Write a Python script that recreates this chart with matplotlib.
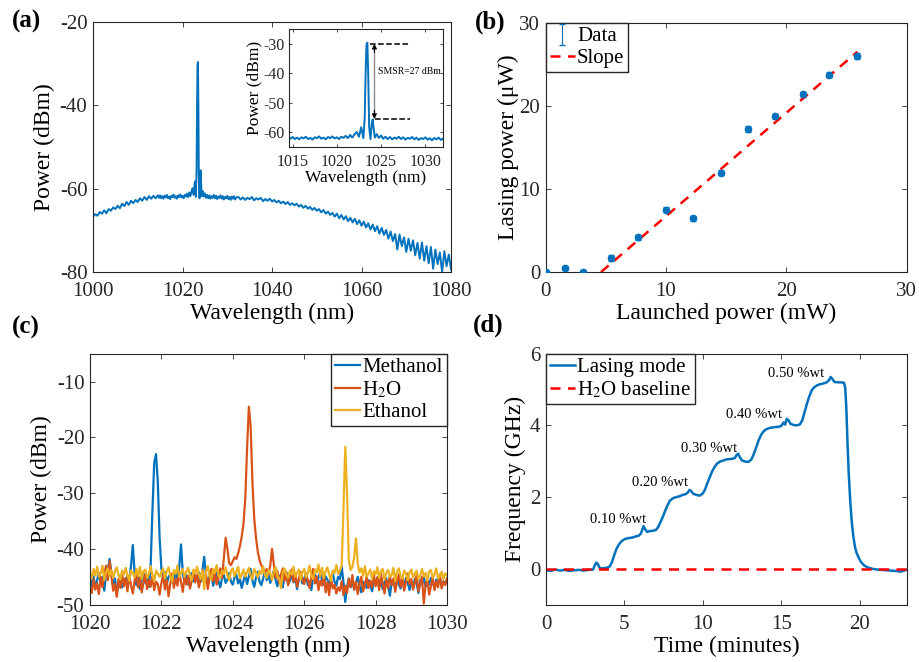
import numpy as np
import matplotlib
matplotlib.use("Agg")
import matplotlib.pyplot as plt

# ---------------- data ----------------
# (a) broadband spectrum, segments (start, step) + hand-read values
seg1_pw = [-66.8, -66.1, -66.5, -65.6, -66.0, -65.2, -65.9, -64.9, -65.3, -64.5,
           -64.9, -64.1, -64.7, -63.6, -64.2, -63.2, -63.9, -62.9, -63.5, -62.7,
           -63.2, -62.3, -62.9, -62.0, -62.7, -61.8, -62.4, -61.7, -62.3, -61.6]   # 1000 -> 1014.5
seg2_pw = [-62.2, -61.6, -62.3, -61.8, -62.4, -61.7, -62.1, -61.5, -62.3, -61.9,
           -62.5, -61.7, -62.0, -61.4, -62.2, -61.8, -62.4, -61.6, -62.0, -61.4,
           -62.1, -61.7, -62.3, -61.5, -61.9, -61.2, -62.0, -60.9, -61.8, -60.7,
           -59.9, -61.5, -58.3]                                                   # 1014.75 -> 1022.75
peak_wl = [1023.0, 1023.15, 1023.25, 1023.35, 1023.45, 1023.55, 1023.65, 1023.8,
           1023.95, 1024.05, 1024.15, 1024.3]
peak_pw = [-62.0, -55.0, -40.0, -30.5, -29.6, -41.0, -58.0, -62.3, -57.0, -55.6, -58.5, -61.8]
seg3_pw = [-60.6, -61.9, -61.1, -62.2, -61.5, -62.3, -61.6, -62.4, -61.8, -62.2,
           -61.5, -62.3, -61.7, -62.5, -61.9, -62.2, -61.6, -62.4, -61.8, -62.6,
           -62.0, -62.3, -61.7, -62.5, -62.0, -62.7, -61.9, -62.4, -61.8, -62.6,
           -62.1]                                                                 # 1024.5 -> 1032
seg4_pw = [-62.0, -62.6, -62.1, -62.7, -62.2, -62.5, -62.0, -62.8, -62.3, -62.6,
           -62.2, -63.0, -62.5, -62.9, -62.4, -63.1, -62.7, -63.3, -62.9, -63.5,
           -63.1, -63.7, -63.2, -63.9, -63.5, -64.0, -63.6, -64.3, -63.9, -64.6,
           -64.1, -64.8, -64.4, -65.1, -64.6, -65.3, -64.9, -65.7, -65.1, -66.0,
           -65.5, -66.3, -65.8, -66.7, -66.0, -67.1, -66.3, -67.4, -66.6, -67.8,
           -67.0, -68.1, -67.2, -68.5, -67.6, -68.9, -67.9, -69.3, -68.3, -69.8,
           -68.6, -70.2, -69.0, -70.8, -69.4, -71.1, -69.9, -72.0, -70.3, -72.6,
           -70.9, -74.6, -71.0, -73.8, -71.7, -75.2, -72.0, -74.9, -72.4, -76.0,
           -73.0, -76.8, -72.9, -77.3, -73.8, -77.9, -74.0, -79.2, -74.6, -78.1,
           -75.3, -80.0, -75.0, -78.6, -75.8, -79.4]                             # 1032.5 -> 1080

smsr_top = -30.0
smsr_bottom = -55.5

# (b) lasing power vs launched power
launched = [0, 1.57, 3.14, 5.45, 7.71, 10.0, 12.26, 14.55, 16.83, 19.09, 21.35, 23.58, 25.84]
lasing = [0, 0.44, 0.04, 1.64, 4.16, 7.52, 6.44, 11.96, 17.2, 18.72, 21.4, 23.76, 26.0]
lasing_err = [0.1, 0.25, 0.2, 0.35, 0.3, 0.35, 0.35, 0.3, 0.35, 0.3, 0.3, 0.3, 0.4]
slope_x = [4.6, 25.9]
slope_y = [0, 26.5]

# (c) spectra in different liquids, 0.05 nm grid from 1020 nm (one row = 1 nm)
methanol = [
    -45.2, -46.8, -44.9, -47.1, -45.6, -44.3, -46.2, -45.0, -47.5, -44.6, -43.8, -41.8, -44.5, -46.7, -45.3, -48.3, -45.8, -44.7, -46.9, -45.4,
    -46.3, -44.8, -45.9, -43.0, -39.3, -44.2, -46.5, -45.1, -47.2, -45.6, -44.4, -46.1, -45.0, -46.8, -43.0, -33.0, -24.5, -23.0, -28.0, -38.0,
    -43.5, -45.2, -44.1, -46.3, -45.0, -44.6, -46.0, -45.3, -44.0, -45.7, -43.2, -39.2, -44.4, -45.9, -44.7, -46.4, -45.1, -44.3, -45.8, -44.9,
    -45.6, -44.2, -45.9, -43.8, -41.4, -44.9, -46.2, -45.0, -44.5, -46.6, -45.4, -44.1, -45.8, -46.9, -45.2, -44.7, -46.1, -45.5, -44.3, -45.9,
    -46.4, -45.1, -44.6, -46.2, -45.3, -47.0, -45.8, -44.4, -46.3, -45.0, -43.6, -45.7, -46.8, -45.2, -44.1, -45.9, -46.5, -45.3, -44.0, -45.6,
    -44.5, -46.1, -45.2, -43.9, -45.6, -46.7, -44.8, -45.4, -46.9, -45.0, -44.2, -46.3, -45.7, -44.6, -46.0, -45.1, -47.2, -45.5, -44.7, -46.2,
    -45.3, -44.4, -46.5, -45.8, -47.4, -45.0, -44.6, -46.1, -45.2, -44.0, -45.7, -46.4, -44.9, -45.5, -46.8, -45.1, -44.3, -45.9, -46.6, -45.0,
    -45.4, -43.2, -46.0, -49.5, -46.8, -45.3, -46.9, -45.5, -47.3, -46.1, -45.0, -46.6, -47.8, -45.9, -46.3, -47.0, -45.6, -46.4, -47.6, -45.8,
    -46.2, -45.1, -46.8, -45.7, -47.2, -46.0, -45.3, -46.5, -48.4, -46.1, -45.6, -46.9, -45.4, -46.3, -47.1, -45.8, -46.6, -45.2, -46.0, -47.4,
    -45.9, -46.7, -45.4, -46.2, -47.9, -45.6, -46.3, -45.0, -46.8, -45.7, -46.4, -45.2, -46.0, -47.0, -45.5, -46.1, -45.3, -46.6, -45.8, -46.2,
    -45.6]
water = [
    -46.8, -47.9, -45.5, -47.3, -46.2, -48.1, -45.0, -46.9, -44.7, -43.0, -45.6, -42.2, -44.9, -47.5, -46.3, -48.6, -45.4, -47.0, -44.6, -46.7,
    -45.2, -47.6, -44.8, -46.5, -48.0, -45.7, -44.3, -46.9, -45.1, -47.8, -46.0, -44.6, -47.2, -45.5, -46.8, -44.9, -47.4, -45.9, -46.3, -48.2,
    -46.1, -44.7, -47.3, -45.6, -48.5, -46.2, -44.4, -47.0, -45.3, -46.6, -44.2, -45.9, -47.7, -45.0, -46.4, -44.8, -47.1, -45.7, -43.9, -46.0,
    -44.6, -46.9, -45.3, -43.8, -46.1, -44.5, -47.2, -45.0, -43.6, -45.8, -44.3, -46.4, -44.9, -43.5, -45.2, -41.5, -38.0, -40.0, -42.6, -42.9,
    -42.2, -41.5, -41.8, -40.8, -39.5, -37.8, -35.5, -31.0, -22.0, -14.5, -18.0, -28.0, -34.5, -38.0, -40.5, -42.0, -43.0, -43.5, -44.2, -43.6,
    -44.5, -43.0, -40.0, -42.8, -45.2, -44.0, -46.1, -44.6, -43.5, -45.7, -44.2, -46.5, -45.0, -43.7, -45.9, -44.4, -46.8, -45.3, -44.1, -45.6,
    -46.3, -44.8, -45.5, -47.0, -45.1, -43.6, -46.2, -44.9, -47.4, -45.7, -46.6, -44.3, -47.8, -46.0, -48.3, -45.2, -47.1, -46.4, -48.0, -46.9,
    -47.5, -45.8, -48.3, -46.6, -47.9, -45.4, -46.8, -44.7, -47.3, -45.9, -48.1, -46.2, -45.0, -47.6, -46.4, -44.9, -47.0, -45.7, -46.9, -44.6,
    -46.7, -45.1, -47.4, -44.5, -46.2, -48.0, -45.6, -47.0, -44.8, -46.5, -45.3, -47.7, -45.9, -44.6, -46.8, -45.2, -47.5, -46.0, -44.4, -46.3,
    -45.4, -47.3, -46.0, -44.7, -47.6, -46.2, -45.0, -49.8, -46.4, -45.5, -48.2, -46.7, -45.1, -47.4, -45.8, -46.9, -44.6, -47.1, -45.9, -46.5,
    -45.3]
ethanol = [
    -44.1, -45.3, -43.6, -44.8, -43.2, -45.0, -44.4, -43.0, -45.6, -44.2, -43.5, -44.9, -43.8, -45.2, -44.0, -43.3, -44.7, -45.5, -43.9, -44.6,
    -43.4, -44.8, -45.7, -43.9, -44.3, -45.1, -43.6, -44.9, -43.2, -45.4, -44.0, -43.7, -45.2, -44.5, -43.1, -44.7, -45.8, -43.9, -44.4, -45.0,
    -44.2, -43.5, -45.3, -44.0, -43.3, -44.8, -45.9, -43.8, -44.5, -43.0, -45.1, -44.3, -43.6, -45.0, -44.1, -43.4, -44.9, -45.6, -43.7, -44.4,
    -43.2, -44.6, -45.4, -43.8, -47.2, -44.0, -43.1, -44.9, -45.5, -43.6, -44.3, -42.9, -44.8, -45.2, -43.9, -44.5, -43.3, -44.7, -45.6, -44.0,
    -43.5, -44.9, -44.1, -43.2, -45.3, -44.6, -43.7, -45.0, -44.2, -43.4, -44.8, -45.4, -43.6, -44.3, -45.1, -43.9, -44.5, -43.1, -44.7, -45.2,
    -43.8, -44.4, -45.6, -44.0, -43.3, -44.9, -45.3, -47.0, -44.1, -43.5, -44.7, -45.2, -43.9, -44.6, -43.2, -45.0, -44.3, -43.7, -45.5, -44.2,
    -43.6, -45.1, -44.4, -43.0, -44.8, -45.4, -43.7, -44.2, -42.8, -44.9, -43.4, -45.2, -44.0, -43.3, -44.6, -45.7, -43.9, -44.3, -42.9, -44.5,
    -43.9, -43.0, -33.0, -21.7, -30.0, -42.0, -43.8, -43.2, -41.5, -38.1, -42.6, -44.2, -43.5, -44.8, -43.1, -45.0, -44.4, -43.7, -45.3, -44.0,
    -44.6, -43.3, -45.2, -44.0, -43.6, -45.5, -44.3, -43.8, -45.0, -44.7, -43.4, -45.8, -44.1, -43.5, -44.9, -45.3, -43.9, -44.4, -45.6, -44.2,
    -43.7, -45.1, -44.5, -43.9, -45.4, -44.8, -43.6, -45.0, -44.3, -45.7, -44.0, -43.8, -45.2, -44.6, -43.5, -45.3, -44.9, -44.1, -45.5, -44.4,
    -44.8]

# (d) frequency shift vs time
time_min = [0, 0.3, 0.6, 0.9, 1.2, 1.5, 1.8, 2.1, 2.4, 2.7, 3.0, 3.1, 3.2, 3.3, 3.4, 3.5, 3.7, 3.9,
            4.05, 4.2, 4.35, 4.5, 4.65, 4.8, 4.95, 5.1, 5.3, 5.5, 5.7, 5.9, 6.05, 6.15, 6.22, 6.3,
            6.45, 6.6, 6.8, 7.0, 7.15, 7.3, 7.45, 7.6, 7.75, 7.9, 8.1, 8.3, 8.5, 8.7, 8.9, 9.05,
            9.15, 9.25, 9.4, 9.6, 9.8, 10.0, 10.15, 10.3, 10.45, 10.6, 10.75, 10.9, 11.1, 11.3,
            11.5, 11.7, 11.9, 12.05, 12.15, 12.25, 12.35, 12.5, 12.7, 12.9, 13.1, 13.25, 13.4,
            13.55, 13.7, 13.85, 14.0, 14.2, 14.4, 14.6, 14.8, 15.0, 15.15, 15.25, 15.35, 15.45,
            15.6, 15.8, 16.0, 16.2, 16.35, 16.5, 16.65, 16.8, 16.95, 17.1, 17.3, 17.5, 17.7, 17.9,
            18.05, 18.15, 18.25, 18.4, 18.6, 18.8, 19.0, 19.08, 19.15, 19.22, 19.3, 19.4, 19.5,
            19.6, 19.7, 19.8, 19.95, 20.1, 20.3, 20.5, 20.8, 21.1, 21.4, 21.7, 22.0, 22.3, 22.6,
            22.9, 23.0]
freq_ghz = [-0.04, -0.06, -0.02, -0.05, -0.03, -0.06, -0.04, -0.03, -0.05, -0.03, -0.02, 0.08,
            0.17, 0.14, 0.04, 0.01, 0.02, 0.03, 0.06, 0.18, 0.38, 0.56, 0.68, 0.76, 0.81, 0.84,
            0.86, 0.87, 0.90, 0.92, 0.98, 1.10, 1.19, 1.12, 1.03, 1.05, 1.06, 1.08, 1.16, 1.30,
            1.45, 1.62, 1.77, 1.90, 1.97, 2.00, 2.02, 2.06, 2.08, 2.13, 2.20, 2.17, 2.09, 2.06,
            2.04, 2.10, 2.22, 2.40, 2.56, 2.72, 2.84, 2.93, 2.99, 3.02, 3.05, 3.06, 3.07, 3.09,
            3.17, 3.21, 3.12, 3.02, 2.99, 2.98, 3.05, 3.20, 3.38, 3.57, 3.72, 3.82, 3.88, 3.92,
            3.94, 3.95, 3.96, 3.98, 4.08, 4.02, 4.18, 4.15, 4.04, 4.01, 4.00, 4.03, 4.15, 4.38,
            4.62, 4.82, 4.98, 5.06, 5.12, 5.15, 5.17, 5.20, 5.26, 5.35, 5.30, 5.21, 5.20, 5.20,
            5.19, 5.05, 4.50, 3.60, 2.70, 1.90, 1.30, 0.90, 0.62, 0.45, 0.30, 0.18, 0.09, 0.04,
            0.00, -0.02, -0.03, -0.04, -0.05, -0.06, -0.08, -0.04, -0.03]
baseline_t = [0, 23]
baseline_f = [0, 0]
conc_labels = ["0.10 %wt", "0.20 %wt", "0.30 %wt", "0.40 %wt", "0.50 %wt"]
conc_t = [4.62, 7.28, 10.37, 13.29, 15.97]
conc_f = [1.38, 2.40, 3.36, 4.30, 5.45]

# ---------------- style ----------------
plt.rcParams['font.family'] = ['Liberation Serif', 'DejaVu Serif']
plt.rcParams['mathtext.fontset'] = 'stix'
plt.rcParams['axes.unicode_minus'] = False
plt.rcParams['axes.linewidth'] = 0.8
plt.rcParams['axes.edgecolor'] = '#262626'
plt.rcParams['xtick.color'] = '#262626'
plt.rcParams['ytick.color'] = '#262626'
plt.rcParams['xtick.direction'] = 'in'
plt.rcParams['ytick.direction'] = 'in'
plt.rcParams['xtick.top'] = True
plt.rcParams['ytick.right'] = True
plt.rcParams['xtick.major.size'] = 3.5
plt.rcParams['ytick.major.size'] = 3.5
plt.rcParams['xtick.major.width'] = 0.6
plt.rcParams['ytick.major.width'] = 0.6
plt.rcParams['xtick.major.pad'] = 7.5
plt.rcParams['ytick.major.pad'] = 4
plt.rcParams['legend.fancybox'] = False
plt.rcParams['legend.edgecolor'] = '#262626'
plt.rcParams['legend.framealpha'] = 1

BLUE = '#0072BD'
ORANGE = '#D95319'
YELLOW = '#EDB120'
TICK_FS = 15
LABEL_FS = 17
LEG = dict(fontsize=15, borderaxespad=0, handlelength=1.2, handletextpad=0.1,
           borderpad=0.2, labelspacing=0.1)

wl_a = np.concatenate([1000 + 0.5 * np.arange(len(seg1_pw)),
                       1014.75 + 0.25 * np.arange(len(seg2_pw)),
                       peak_wl,
                       1024.5 + 0.25 * np.arange(len(seg3_pw)),
                       1032.5 + 0.5 * np.arange(len(seg4_pw))])
pw_a = np.concatenate([seg1_pw, seg2_pw, peak_pw, seg3_pw, seg4_pw])
wl_c = 1020 + 0.05 * np.arange(len(methanol))

fig = plt.figure(figsize=(9.19, 6.62), dpi=100)

# (a)
ax_a = fig.add_axes([0.1012, 0.5891, 0.3896, 0.3777])
ax_a.plot(wl_a, pw_a, color=BLUE, lw=1.4)
ax_a.set_xlim(1000, 1080)
ax_a.set_ylim(-80, -20)
ax_a.set_xticks([1000, 1020, 1040, 1060, 1080])
ax_a.set_yticks([-80, -60, -40, -20])
ax_a.tick_params(labelsize=TICK_FS)
ax_a.set_xlabel('Wavelength (nm)', fontsize=LABEL_FS, labelpad=1)
ax_a.set_ylabel('Power (dBm)', fontsize=LABEL_FS, labelpad=3)

# inset
ax_in = fig.add_axes([0.3145, 0.7779, 0.1676, 0.1782])
ax_in.plot(wl_a, pw_a, color=BLUE, lw=1.4)
ax_in.set_xlim(1014.6, 1032)
ax_in.set_ylim(-65, -25)
ax_in.set_xticks([1015, 1020, 1025, 1030])
ax_in.set_yticks([-60, -50, -40, -30])
ax_in.tick_params(labelsize=11.5, length=2.5)
ax_in.tick_params(axis='x', pad=5)
ax_in.tick_params(axis='y', pad=3)
ax_in.set_xlabel('Wavelength (nm)', fontsize=12.5, labelpad=0)
ax_in.set_ylabel('Power (dBm)', fontsize=12.5, labelpad=1)
ax_in.plot([1023.8, 1028.3], [smsr_top, smsr_top], 'k--', lw=1.1)
ax_in.plot([1024.3, 1028.3], [smsr_bottom, smsr_bottom], 'k--', lw=1.1)
ax_in.plot([1024.25, 1024.25], [smsr_top - 1, smsr_bottom + 1], color='0.55', lw=1.0)
ax_in.annotate('', xy=(1024.25, smsr_top), xytext=(1024.25, smsr_top - 3),
               arrowprops=dict(arrowstyle='-|>', color='k', lw=0.8,
                               mutation_scale=7, shrinkA=0, shrinkB=0))
ax_in.annotate('', xy=(1024.25, smsr_bottom), xytext=(1024.25, smsr_bottom + 3),
               arrowprops=dict(arrowstyle='-|>', color='k', lw=0.8,
                               mutation_scale=7, shrinkA=0, shrinkB=0))
ax_in.text(1024.6, -39.3, 'SMSR=27 dBm', fontsize=7, va='center', ha='left')

# (b)
ax_b = fig.add_axes([0.5938, 0.5891, 0.3928, 0.3766])
eb = ax_b.errorbar(launched, lasing, yerr=lasing_err, fmt='none', ecolor=BLUE,
                   elinewidth=0.8, capsize=2)
ax_b.plot(launched, lasing, 'o', color=BLUE, ms=4.5, zorder=3)
sl, = ax_b.plot(slope_x, slope_y, '--', color='#FF0000', lw=1.8, dashes=(4, 3))
ax_b.set_xlim(0, 30)
ax_b.set_ylim(0, 30)
ax_b.set_xticks([0, 10, 20, 30])
ax_b.set_yticks([0, 10, 20, 30])
ax_b.tick_params(labelsize=TICK_FS)
ax_b.set_xlabel('Launched power (mW)', fontsize=LABEL_FS, labelpad=1)
ax_b.set_ylabel('Lasing power (μW)', fontsize=LABEL_FS, labelpad=0)
ax_b.legend([eb, sl], ['Data', 'Slope'], loc='upper left', **LEG)

# (c)
ax_c = fig.add_axes([0.0979, 0.0866, 0.3885, 0.3792])
ax_c.plot(wl_c, methanol, color=BLUE, lw=1.6, label='Methanol')
ax_c.plot(wl_c, water, color=ORANGE, lw=1.6, label='H$_2$O')
ax_c.plot(wl_c, ethanol, color=YELLOW, lw=1.6, label='Ethanol')
ax_c.set_xlim(1020, 1030)
ax_c.set_ylim(-50, -5)
ax_c.set_xticks([1020, 1022, 1024, 1026, 1028, 1030])
ax_c.set_yticks([-50, -40, -30, -20, -10])
ax_c.tick_params(labelsize=TICK_FS)
ax_c.set_xlabel('Wavelength (nm)', fontsize=LABEL_FS, labelpad=1)
ax_c.set_ylabel('Power (dBm)', fontsize=LABEL_FS, labelpad=3)
ax_c.legend(loc='upper right', **LEG)

# (d)
ax_d = fig.add_axes([0.5941, 0.0866, 0.3925, 0.3792])
ax_d.plot(time_min, freq_ghz, color=BLUE, lw=1.8, label='Lasing mode')
ax_d.plot(baseline_t, baseline_f, '--', color='#FF0000', lw=1.8, dashes=(4, 3),
          label='H$_2$O baseline')
for lab, tx, fy in zip(conc_labels, conc_t, conc_f):
    ax_d.text(tx, fy, lab, fontsize=10.5, ha='center', va='center')
ax_d.set_xlim(0, 23)
ax_d.set_ylim(-1, 6)
ax_d.set_xticks([0, 5, 10, 15, 20])
ax_d.set_yticks([0, 2, 4, 6])
ax_d.tick_params(labelsize=TICK_FS)
ax_d.set_xlabel('Time (minutes)', fontsize=LABEL_FS, labelpad=1)
ax_d.set_ylabel('Frequency (GHz)', fontsize=LABEL_FS, labelpad=3)
ax_d.legend(loc='upper left', **LEG)

# panel letters
for lab, x, y in [('(a)', 0.013, 0.967), ('(b)', 0.517, 0.967),
                  ('(c)', 0.013, 0.506), ('(d)', 0.515, 0.509)]:
    fig.text(x, y, lab, fontsize=18, fontweight='bold', va='center', ha='left')

fig.savefig('out.png', dpi=100)
